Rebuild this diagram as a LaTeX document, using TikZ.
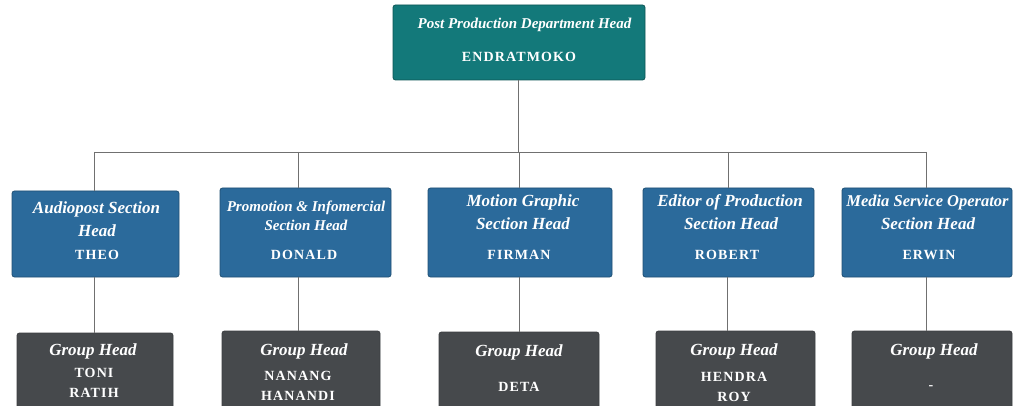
\documentclass[tikz,border=0pt]{standalone}
\usepackage{fontspec}
\setmainfont{Liberation Serif}
\newfontfamily\namefont[LetterSpace=8]{Liberation Serif}
\definecolor{teal1}{HTML}{13797A}
\definecolor{blue1}{HTML}{2B6A9B}
\definecolor{gray1}{HTML}{46494C}
\definecolor{line1}{HTML}{707070}
\tikzset{
  box/.style={rectangle, rounded corners=2.5pt, inner sep=0pt, line width=0.8pt},
  topbox/.style={box, fill=teal1, draw=teal1!70!black},
  secbox/.style={box, fill=blue1, draw=blue1!75!black},
  grpbox/.style={box, fill=gray1, draw=gray1!85!black},
  ttl/.style={text=white, font=\bfseries\itshape\fontsize{17}{20}\selectfont, inner sep=0pt, anchor=base},
  ttls/.style={text=white, font=\bfseries\itshape\fontsize{15}{18}\selectfont, inner sep=0pt, anchor=base},
  nm/.style={text=white, font=\namefont\bfseries\fontsize{14}{16}\selectfont, inner sep=0pt, anchor=base},
  conn/.style={draw=line1, line width=0.8pt},
}
\begin{document}
\begin{tikzpicture}[x=1pt,y=-1pt]
\clip (0,0) rectangle (1015,406);
\fill[white] (0,0) rectangle (1015,406);
% boxes
\node[topbox, minimum width=252, minimum height=75] (top) at (519,42.5) {};
\node[secbox, minimum width=167, minimum height=86] (s1) at (95.5,234) {};
\node[secbox, minimum width=171, minimum height=89] (s2) at (305.5,232.5) {};
\node[secbox, minimum width=184, minimum height=89] (s3) at (520,232.5) {};
\node[secbox, minimum width=171, minimum height=89] (s4) at (728.5,232.5) {};
\node[secbox, minimum width=170, minimum height=89] (s5) at (927,232.5) {};
\node[grpbox, minimum width=156, minimum height=100] (g1) at (95,383) {};
\node[grpbox, minimum width=158, minimum height=100] (g2) at (301,381) {};
\node[grpbox, minimum width=160, minimum height=100] (g3) at (519,382) {};
\node[grpbox, minimum width=159, minimum height=100] (g4) at (735.5,381) {};
\node[grpbox, minimum width=160, minimum height=100] (g5) at (932,381) {};
% connectors
\coordinate (bus) at (0,152);
\draw[conn] ([xshift=-1pt]top.south) -- ([xshift=-1pt]top.south |- bus);
\draw[conn] ([xshift=-1.5pt]s1.north |- bus) -- ([xshift=-1pt]s5.north |- bus);
\draw[conn] ([xshift=-1.5pt]s1.north |- bus) -- ([xshift=-1.5pt]s1.north);
\draw[conn] ([xshift=-7.5pt]s2.north |- bus) -- ([xshift=-7.5pt]s2.north);
\draw[conn] ([xshift=-1pt]s3.north |- bus) -- ([xshift=-1pt]s3.north);
\draw[conn] (s4.north |- bus) -- (s4.north);
\draw[conn] ([xshift=-1pt]s5.north |- bus) -- ([xshift=-1pt]s5.north);
\draw[conn] ([xshift=-1.5pt]s1.south) -- ([xshift=-1.5pt]s1.south |- g1.north);
\draw[conn] ([xshift=-7.5pt]s2.south) -- ([xshift=-7.5pt]s2.south |- g2.north);
\draw[conn] ([xshift=-1pt]s3.south) -- ([xshift=-1pt]s3.south |- g3.north);
\draw[conn] ([xshift=-1pt]s4.south) -- ([xshift=-1pt]s4.south |- g4.north);
\draw[conn] ([xshift=-1pt]s5.south) -- ([xshift=-1pt]s5.south |- g5.north);
% top texts
\node[ttls] (t1) at (524.5,29) {Post Production Department Head};
\node[nm] (t2) at (519,62) {ENDRATMOKO};
% section texts
\node[ttl] (a1) at (96.5,214) {Audiopost Section};
\node[ttl] (a2) at (97,237) {Head};
\node[nm] (a3) at (97,260) {THEO};
\node[ttls] (b1) at (306,211.5) {Promotion \& Infomercial};
\node[ttls] (b2) at (306,231) {Section Head};
\node[nm] (b3) at (304,260) {DONALD};
\node[ttl] (c1) at (523,207) {Motion Graphic};
\node[ttl] (c2) at (523,230) {Section Head};
\node[nm] (c3) at (519,260) {FIRMAN};
\node[ttl] (d1) at (730,207) {Editor of Production};
\node[ttl] (d2) at (731,230) {Section Head};
\node[nm] (d3) at (727,260) {ROBERT};
\node[ttls] (e1) at (927.5,207) {\fontsize{16.5}{19}\selectfont Media Service Operator};
\node[ttl] (e2) at (928,230) {Section Head};
\node[nm] (e3) at (929,260) {ERWIN};
% group texts
\node[ttl] (f1) at (93,355) {Group Head};
\node[nm] (f2) at (94,377.5) {TONI};
\node[nm] (f3) at (94,397.5) {RATIH};
\node[ttl] (h1) at (304,355) {Group Head};
\node[nm] (h2) at (298,380) {NANANG};
\node[nm] (h3) at (298,400) {HANANDI};
\node[ttl] (i1) at (519,356) {Group Head};
\node[nm] (i2) at (519,391) {DETA};
\node[ttl] (j1) at (734,355.5) {Group Head};
\node[nm] (j2) at (734,381) {HENDRA};
\node[nm] (j3) at (734,401) {ROY};
\node[ttl] (k1) at (934,355) {Group Head};
\node[nm] (k2) at (931,389) {-};
\end{tikzpicture}
\end{document}
